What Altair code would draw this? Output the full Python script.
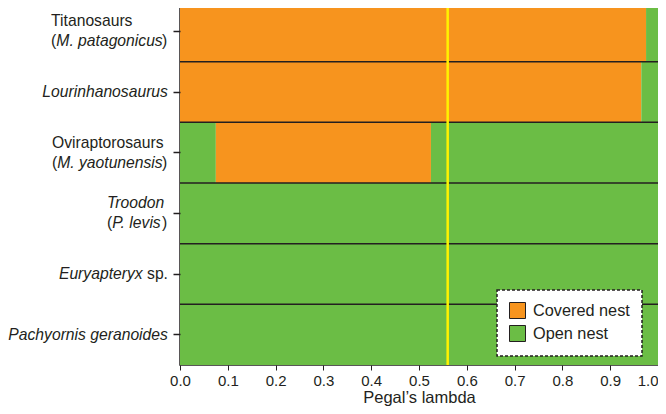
import altair as alt
import pandas as pd

# ---- data ----
rows = ["Titanosaurs", "Lourinhanosaurus", "Oviraptorosaurs", "Troodon", "Euryapteryx", "Pachyornis"]

seg_row = ["Titanosaurs", "Titanosaurs",
           "Lourinhanosaurus", "Lourinhanosaurus",
           "Oviraptorosaurs", "Oviraptorosaurs", "Oviraptorosaurs",
           "Troodon", "Euryapteryx", "Pachyornis"]
seg_start = [0.0, 0.975, 0.0, 0.965, 0.0, 0.075, 0.525, 0.0, 0.0, 0.0]
seg_end = [0.975, 1.0, 0.965, 1.0, 0.075, 0.525, 1.0, 1.0, 1.0, 1.0]
seg_type = ["Covered nest", "Open nest",
            "Covered nest", "Open nest",
            "Open nest", "Covered nest", "Open nest",
            "Open nest", "Open nest", "Open nest"]

nest_types = ["Covered nest", "Open nest"]
nest_colors = ["#F7941E", "#6BBD45"]

lambda_value = [0.56]
x_ticks = [0.0, 0.1, 0.2, 0.3, 0.4, 0.5, 0.6, 0.7, 0.8, 0.9, 1.0]

# label lines: list of (text, style) pieces per line
label_lines = {
    "Titanosaurs": [[("Titanosaurs", "normal")],
                    [("(", "normal"), ("M. patagonicus", "italic"), (")", "normal")]],
    "Lourinhanosaurus": [[("Lourinhanosaurus", "italic")]],
    "Oviraptorosaurs": [[("Oviraptorosaurs", "normal")],
                        [("(", "normal"), ("M. yaotunensis", "italic"), (")", "normal")]],
    "Troodon": [[("Troodon", "italic")],
                [("(", "normal"), ("P. levis", "italic"), (")", "normal")]],
    "Euryapteryx": [[("Euryapteryx", "italic"), (" sp.", "normal")]],
    "Pachyornis": [[("Pachyornis geranoides", "italic")]],
}

# ---- text layout helpers (Arial / Liberation Sans advance widths) ----
FONT = "Liberation Sans, Arial, Helvetica, sans-serif"
LABEL_SIZE = 15.7
W = {" ": 278, "(": 333, ")": 333, ".": 278, "E": 667, "L": 556, "M": 833, "O": 778,
     "P": 667, "T": 611, "a": 556, "b": 556, "c": 500, "d": 556, "e": 556, "g": 556,
     "h": 556, "i": 222, "l": 222, "m": 833, "n": 556, "o": 556, "p": 556, "r": 333,
     "s": 500, "t": 278, "u": 556, "v": 500, "x": 500, "y": 500}


def text_width(s, size=LABEL_SIZE):
    return sum(W.get(c, 556) for c in s) * size / 1000.0


right_edge = -12  # right edge of label block relative to plot's left side
pieces = []
for r in rows:
    lines = label_lines[r]
    widths = [sum(text_width(t) for t, _ in ln) for ln in lines]
    left = right_edge - max(widths)
    n = len(lines)
    for i, ln in enumerate(lines):
        dy = 0 if n == 1 else (-10 if i == 0 else 10)
        x = left
        prev_style = None
        for t, st in ln:
            lead = len(t) - len(t.lstrip(" "))
            x += text_width(" " * lead)
            body = t.lstrip(" ")
            if body == ")" and prev_style == "italic":
                x -= 0.8
            pieces.append({"row": r, "text": body, "px": x, "style": st, "dy": dy})
            x += text_width(body)
            prev_style = st
pieces_df = pd.DataFrame(pieces)

segs = pd.DataFrame({"row": seg_row, "start": seg_start, "end": seg_end, "type": seg_type})

yscale = alt.Scale(domain=rows, paddingInner=0, paddingOuter=0)
xscale = alt.Scale(domain=[0, 1], nice=False, zero=False)

bars = alt.Chart(segs).mark_rect(strokeWidth=0).encode(
    x=alt.X("start:Q", scale=xscale,
            axis=alt.Axis(values=x_ticks, format=".1f", title="Pegal\u2019s lambda",
                          grid=False, domain=False, tickSize=5, tickColor="#231F20",
                          tickWidth=1, labelFontSize=15, labelColor="#231F20",
                          labelPadding=3, titleFontSize=16.5, titleFontWeight="normal",
                          titleColor="#231F20", titlePadding=1, labelFont=FONT,
                          titleFont=FONT, labelFlush=False,
                          labelAlign={"condition": {"test": "datum.value >= 1",
                                                    "value": "right"},
                                      "value": "center"})),
    x2="end:Q",
    y=alt.Y("row:N", scale=yscale, sort=rows,
            axis=alt.Axis(labels=False, title=None, domain=False, tickSize=7,
                          tickColor="#231F20", tickWidth=1.5, grid=False)),
    color=alt.Color("type:N", scale=alt.Scale(domain=nest_types, range=nest_colors),
                    legend=alt.Legend(title=None, orient="none", legendX=317, legendY=289,
                                      symbolType="square", symbolSize=256,
                                      symbolStrokeColor="#231F20", symbolStrokeWidth=1,
                                      labelFontSize=16.3, labelFont=FONT, labelColor="#231F20",
                                      labelOffset=7, rowPadding=2, padding=12,
                                      fillColor="white", strokeColor="#231F20")),
)

seps = alt.Chart(pd.DataFrame({"row": rows[1:]})).mark_rule(
    color="#231F20", strokeWidth=1.5
).encode(y=alt.Y("row:N", scale=yscale, sort=rows, bandPosition=0))

yellow = alt.Chart(pd.DataFrame({"lam": lambda_value})).mark_rule(
    color="#FFF200", strokeWidth=2.5
).encode(x=alt.X("lam:Q", scale=xscale))

text_layers = []
for (st, dy), sub in pieces_df.groupby(["style", "dy"]):
    text_layers.append(
        alt.Chart(sub).mark_text(align="left", baseline="middle", dy=dy, font=FONT,
                                 fontSize=LABEL_SIZE, fontStyle=st, color="#231F20")
        .encode(x=alt.X("px:Q", scale=None),
                y=alt.Y("row:N", scale=yscale, sort=rows),
                text="text:N")
    )

chart = alt.layer(bars, seps, yellow, *text_layers).properties(
    width=478, height=364,
    autosize=alt.AutoSizeParams(type="none"),
    padding={"left": 172, "top": -7, "right": 0, "bottom": 41},
).configure_view(
    stroke="#231F20", strokeWidth=1.5
).configure_legend(
    strokeDash=[3, 2], strokeWidth=1.5
)

chart.save("out.html", embed_options={"renderer": "svg", "actions": False})
